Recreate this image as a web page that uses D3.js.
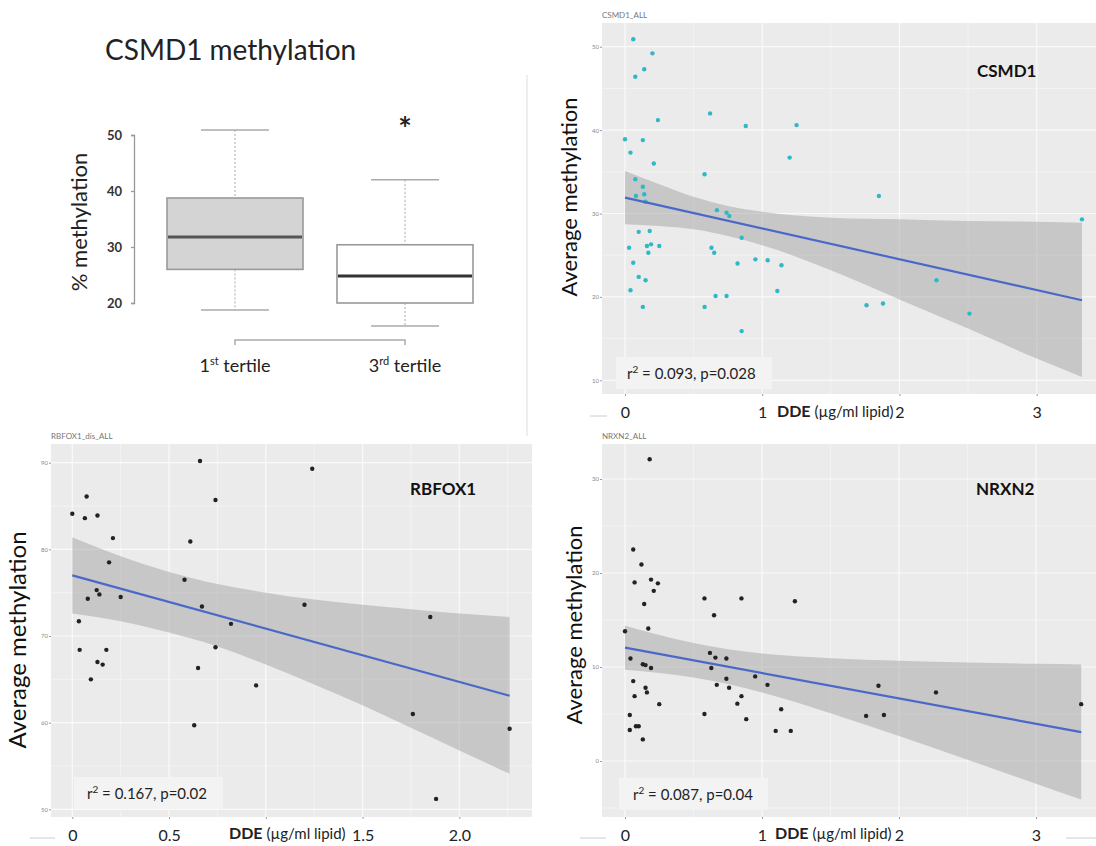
<!DOCTYPE html>
<html><head><meta charset="utf-8">
<script src="https://cdn.jsdelivr.net/npm/d3@7"></script>
<style>body{margin:0;background:#fff}svg{display:block}text{font-family:Lato,"Open Sans",sans-serif}</style>
</head><body>
<svg id="c" width="1096" height="846" viewBox="0 0 1096 846"></svg>
<script>
// ---------- Box plot (CSMD1 methylation by DDE tertile) ----------
const tertileNums = ["1", "3"];
const tertileSups = ["st", "rd"];
const boxMin = [18.75, 15.9];
const boxQ1  = [26.0, 20.0];
const boxMed = [31.8, 24.8];
const boxQ3  = [38.75, 30.4];
const boxMax = [50.9, 42.0];
const boxTicks = [20, 30, 40, 50];

// ---------- Scatter: CSMD1 ----------
const csmd1X = [0.06,0.20,0.14,0.075,0.24,0.62,0.88,1.25,0.0,0.13,0.04,0.21,1.20,0.58,0.075,0.13,0.14,0.08,0.15,1.85,0.67,0.74,0.76,3.33,0.10,0.18,0.85,0.03,0.16,0.19,0.25,0.17,0.63,0.65,0.06,0.82,0.95,1.04,1.14,0.10,0.15,2.27,0.04,0.66,0.74,1.11,0.13,0.58,1.76,1.88,2.51,0.85];
const csmd1Y = [50.9,49.2,47.3,46.4,41.2,42.0,40.5,40.6,38.9,38.8,37.3,36.0,36.7,34.7,34.1,33.2,32.3,32.1,31.4,32.1,30.4,30.1,29.7,29.3,27.8,27.9,27.1,25.9,26.1,26.3,26.1,25.3,25.9,25.3,24.1,24.0,24.5,24.4,23.8,22.4,22.0,22.0,20.8,20.1,20.1,20.7,18.8,18.8,19.0,19.2,18.0,15.9];
const csmd1FitX = [0, 3.33];
const csmd1FitY = [31.9, 19.6];
const csmd1BandX  = [0, 0.25, 0.5, 0.75, 1, 1.5, 2, 2.5, 3, 3.33];
const csmd1BandLo = [28.7, 28.5, 28.1, 27.3, 26.2, 23.2, 19.7, 16.2, 12.6, 10.4];
const csmd1BandHi = [35.1, 33.5, 32.0, 30.9, 30.2, 29.5, 29.3, 29.1, 29.0, 28.9];
const csmd1YTicks = [10, 20, 30, 40, 50];
const csmd1XTicks = [0, 1, 2, 3];
const csmd1XLabels = ["0", "1", "2", "3"];

// ---------- Scatter: RBFOX1 ----------
const rbfoxX = [0.66,1.24,0.074,0.74,0.0,0.065,0.13,0.21,0.61,0.19,0.58,0.126,0.14,0.08,0.25,0.67,1.20,1.85,0.034,0.82,0.74,0.038,0.176,0.13,0.157,0.65,0.096,0.95,1.76,0.63,2.26,1.88];
const rbfoxY = [90.2,89.3,86.1,85.7,84.1,83.6,83.9,81.3,80.9,78.5,76.5,75.3,74.8,74.3,74.5,73.4,73.6,72.2,71.7,71.4,68.7,68.4,68.4,67.0,66.7,66.3,65.0,64.3,61.0,59.7,59.3,51.2];
const rbfoxFitX = [0, 2.26];
const rbfoxFitY = [77.0, 63.1];
const rbfoxBandX  = [0, 0.25, 0.5, 0.75, 1.0, 1.25, 1.5, 1.75, 2.0, 2.26];
const rbfoxBandLo = [72.6, 71.7, 70.4, 68.8, 66.7, 64.4, 62.0, 59.4, 56.8, 54.1];
const rbfoxBandHi = [81.4, 79.2, 77.4, 76.0, 75.0, 74.2, 73.6, 73.1, 72.6, 72.2];
const rbfoxYTicks = [50, 60, 70, 80, 90];
const rbfoxXTicks = [0, 0.5, 1, 1.5, 2];
const rbfoxXLabels = ["0", "0.5", "", "1.5", "2.0"];

// ---------- Scatter: NRXN2 ----------
const nrxnX = [0.18,0.06,0.12,0.07,0.19,0.24,0.21,0.14,0.58,0.85,1.24,0.65,0.0,0.17,0.62,0.66,0.74,0.04,0.13,0.15,0.19,0.63,0.95,0.06,0.74,0.67,0.76,1.04,1.85,0.15,0.16,2.27,0.07,0.85,0.25,0.82,3.33,1.14,0.035,0.58,1.76,1.89,0.885,0.08,0.10,0.035,1.10,1.21,0.13];
const nrxnY = [32.1,22.5,20.9,19.0,19.3,18.9,18.1,16.7,17.3,17.3,17.0,15.5,13.8,14.1,11.5,11.0,10.9,10.9,10.3,10.2,9.9,9.9,9.0,8.5,8.75,8.1,7.8,8.1,8.0,7.8,7.3,7.3,6.9,6.9,6.05,6.1,6.05,5.5,4.9,5.0,4.8,4.9,4.45,3.7,3.7,3.3,3.2,3.2,2.3];
const nrxnFitX = [0, 3.33];
const nrxnFitY = [12.06, 3.07];
const nrxnBandX  = [0, 0.25, 0.5, 0.75, 1.0, 1.5, 2.0, 2.5, 3.0, 3.33];
const nrxnBandLo = [9.7, 9.37, 8.88, 8.19, 7.28, 5.09, 2.66, 0.14, -2.42, -4.1];
const nrxnBandHi = [14.4, 13.41, 12.54, 11.89, 11.44, 10.93, 10.66, 10.48, 10.34, 10.27];
const nrxnYTicks = [0, 10, 20, 30];
const nrxnXTicks = [0, 1, 2, 3];
const nrxnXLabels = ["0", "1", "2", "3"];

const svg = d3.select("#c");

// ================= BOX PLOT =================
(function () {
  const g = svg.append("g");
  const y = d3.scaleLinear().domain([20, 50]).range([303, 135]);
  const x = d3.scalePoint().domain(tertileNums).range([235, 405]);
  const bw = 136;

  g.append("text").attr("x", 105).attr("y", 60).attr("font-size", 28).attr("fill", "#222")
    .text("CSMD1 methylation");

  const ax = g.append("g").attr("transform", "translate(134,0)")
    .call(d3.axisLeft(y).tickValues(boxTicks).tickSize(3).tickSizeOuter(3).tickPadding(9));
  ax.selectAll("path,line").attr("stroke", "#999").attr("stroke-width", 1.3);
  ax.selectAll("text").attr("font-size", 13).attr("font-weight", "bold").attr("fill", "#333")
    .style("font-family", "Lato, sans-serif");

  g.append("text").attr("transform", "translate(87,222) rotate(-90)").attr("text-anchor", "middle")
    .attr("font-size", 22).attr("fill", "#222").text("% methylation");

  tertileNums.forEach((t, i) => {
    const cx = x(t);
    g.append("line").attr("x1", cx).attr("x2", cx).attr("y1", y(boxMax[i])).attr("y2", y(boxQ3[i]))
      .attr("stroke", "#aaa").attr("stroke-dasharray", "2,2");
    g.append("line").attr("x1", cx).attr("x2", cx).attr("y1", y(boxQ1[i])).attr("y2", y(boxMin[i]))
      .attr("stroke", "#aaa").attr("stroke-dasharray", "2,2");
    [boxMax[i], boxMin[i]].forEach(v => {
      g.append("line").attr("x1", cx - 34).attr("x2", cx + 34).attr("y1", y(v)).attr("y2", y(v))
        .attr("stroke", "#aaa").attr("stroke-width", 1.6);
    });
    g.append("rect").attr("x", cx - bw / 2).attr("y", y(boxQ3[i])).attr("width", bw)
      .attr("height", y(boxQ1[i]) - y(boxQ3[i]))
      .attr("fill", i === 0 ? "#d4d4d4" : "#fff").attr("stroke", "#999").attr("stroke-width", 1.6);
    g.append("line").attr("x1", cx - bw / 2 + 1).attr("x2", cx + bw / 2 - 1)
      .attr("y1", y(boxMed[i])).attr("y2", y(boxMed[i]))
      .attr("stroke", i === 0 ? "#555" : "#333").attr("stroke-width", 3);
    const lab = g.append("text").attr("x", cx).attr("y", 372).attr("text-anchor", "middle")
      .attr("font-size", 18).attr("fill", "#222");
    lab.append("tspan").text(t);
    lab.append("tspan").attr("font-size", 11).attr("dy", -7).text(tertileSups[i]);
    lab.append("tspan").attr("dy", 7).text(" tertile");
  });

  g.append("path").attr("d", `M${x("1")},345V340H${x("3")}V345`).attr("fill", "none")
    .attr("stroke", "#aaa").attr("stroke-width", 1.5);
  g.append("text").attr("x", x("3")).attr("y", 141).attr("text-anchor", "middle")
    .attr("font-size", 32).attr("font-weight", "bold").attr("fill", "#222").text("*");

  svg.append("line").attr("x1", 527).attr("x2", 527).attr("y1", 75).attr("y2", 436)
    .attr("stroke", "#ddd").attr("stroke-width", 1);
})();

// ================= SCATTER PANELS =================
function scatter(o) {
  const g = svg.append("g");
  const x = d3.scaleLinear().domain(o.xCal).range(o.xPix);
  const y = d3.scaleLinear().domain(o.yCal).range(o.yPix);
  const [L, T, R, B] = o.bg;

  g.append("text").attr("x", L).attr("y", T - 5).attr("font-size", 8).attr("fill", "#777").text(o.title);
  g.append("rect").attr("x", L).attr("y", T).attr("width", R - L).attr("height", B - T).attr("fill", "#ebebeb");

  function minors(t) {
    const step = t[1] - t[0], out = [];
    for (let i = -1; i < t.length; i++) out.push(t[0] + step * (i + 0.5));
    return out;
  }
  const inX = v => x(v) > L && x(v) < R, inY = v => y(v) > T && y(v) < B;
  minors(o.xTicks).filter(inX).forEach(v => g.append("line").attr("x1", x(v)).attr("x2", x(v)).attr("y1", T).attr("y2", B).attr("stroke", "#f6f6f6").attr("stroke-width", 0.7));
  minors(o.yTicks).filter(inY).forEach(v => g.append("line").attr("y1", y(v)).attr("y2", y(v)).attr("x1", L).attr("x2", R).attr("stroke", "#f6f6f6").attr("stroke-width", 0.7));
  o.xTicks.filter(inX).forEach(v => g.append("line").attr("x1", x(v)).attr("x2", x(v)).attr("y1", T).attr("y2", B).attr("stroke", "#fafafa").attr("stroke-width", 1.2));
  o.yTicks.filter(inY).forEach(v => g.append("line").attr("y1", y(v)).attr("y2", y(v)).attr("x1", L).attr("x2", R).attr("stroke", "#fafafa").attr("stroke-width", 1.2));

  const ya = g.append("g").attr("transform", `translate(${L},0)`)
    .call(d3.axisLeft(y).tickValues(o.yTicks).tickSize(2).tickPadding(1));
  ya.select(".domain").remove();
  ya.selectAll("line").attr("stroke", "#999");
  ya.selectAll("text").attr("font-size", 6).attr("fill", "#888");

  const xa = g.append("g").attr("transform", `translate(0,${B})`)
    .call(d3.axisBottom(x).tickValues(o.xTicks).tickSize(2).tickPadding(o.xPad)
      .tickFormat((d, i) => o.xLabels[i]));
  xa.select(".domain").remove();
  xa.selectAll("line").attr("stroke", "#999");
  xa.selectAll("text").attr("font-size", 16).attr("fill", "#222").style("font-family", "Lato, sans-serif");

  const dl = g.append("text").attr("x", o.ddeX).attr("y", o.labY).attr("font-size", 16).attr("fill", "#222");
  dl.append("tspan").attr("font-weight", "bold").text("DDE");
  dl.append("tspan").attr("font-size", 15).text(" (\u00b5g/ml  lipid)");

  const band = o.bandX.map((v, i) => [v, o.bandLo[i], o.bandHi[i]]);
  g.append("path").datum(band)
    .attr("d", d3.area().x(d => x(d[0])).y0(d => y(d[1])).y1(d => y(d[2])).curve(d3.curveMonotoneX))
    .attr("fill", "#a3a3a3").attr("fill-opacity", 0.5);
  g.selectAll(null).data(o.px).enter().append("circle")
    .attr("cx", d => x(d)).attr("cy", (d, i) => y(o.py[i])).attr("r", 2.2).attr("fill", o.color);
  g.append("path").datum(o.fitX.map((v, i) => [v, o.fitY[i]]))
    .attr("d", d3.line().x(d => x(d[0])).y(d => y(d[1])))
    .attr("stroke", "#4a68c8").attr("stroke-width", 2.2).attr("fill", "none");

  g.append("text").attr("x", o.gene[1]).attr("y", o.gene[2]).attr("font-size", 17).attr("font-weight", "bold")
    .attr("fill", "#111").text(o.gene[0]);

  const [rx0, ry0, rx1, ry1] = o.rbox;
  g.append("rect").attr("x", rx0).attr("y", ry0).attr("width", rx1 - rx0).attr("height", ry1 - ry0).attr("fill", "#f3f3f3");
  const rt = g.append("text").attr("x", rx0 + o.rPad).attr("y", ry1 - 10).attr("font-size", 15).attr("fill", "#222");
  rt.append("tspan").text("r");
  rt.append("tspan").attr("font-size", 10).attr("dy", -6).text("2");
  rt.append("tspan").attr("dy", 6).text(o.rText);

  g.append("text").attr("transform", `translate(${o.ylab[0]},${o.ylab[1]}) rotate(-90)`)
    .attr("text-anchor", "middle").attr("font-size", o.ylab[2]).attr("fill", "#111").text("Average methylation");

  (o.faint || []).forEach(f => g.append("line").attr("x1", f[0]).attr("x2", f[1]).attr("y1", f[2]).attr("y2", f[2]).attr("stroke", "#ccc"));
}

scatter({
  title: "CSMD1_ALL", bg: [602, 23, 1096, 394],
  xCal: [0, 3], xPix: [625, 1036.7], yCal: [10, 50], yPix: [380.3, 46.7],
  xTicks: csmd1XTicks, yTicks: csmd1YTicks, xLabels: csmd1XLabels, xPad: 11,
  ddeX: 777, labY: 417,
  px: csmd1X, py: csmd1Y, color: "#30b8c4",
  fitX: csmd1FitX, fitY: csmd1FitY, bandX: csmd1BandX, bandLo: csmd1BandLo, bandHi: csmd1BandHi,
  gene: ["CSMD1", 977, 77], rbox: [616, 357, 772, 389], rPad: 11, rText: " = 0.093, p=0.028",
  ylab: [577, 197, 22], faint: [[590, 607, 416]]
});
scatter({
  title: "RBFOX1_dis_ALL", bg: [51, 444, 532, 817],
  xCal: [0, 2], xPix: [72.3, 459.3], yCal: [50, 90], yPix: [809.3, 462.7],
  xTicks: rbfoxXTicks, yTicks: rbfoxYTicks, xLabels: rbfoxXLabels, xPad: 11,
  ddeX: 229, labY: 839,
  px: rbfoxX, py: rbfoxY, color: "#222",
  fitX: rbfoxFitX, fitY: rbfoxFitY, bandX: rbfoxBandX, bandLo: rbfoxBandLo, bandHi: rbfoxBandHi,
  gene: ["RBFOX1", 410, 495], rbox: [74, 777, 223, 809], rPad: 13, rText: " = 0.167, p=0.02",
  ylab: [26, 640, 24], faint: [[30, 55, 838]]
});
scatter({
  title: "NRXN2_ALL", bg: [602, 444, 1096, 817],
  xCal: [0, 3], xPix: [625, 1036], yCal: [0, 30], yPix: [761, 479],
  xTicks: nrxnXTicks, yTicks: nrxnYTicks, xLabels: nrxnXLabels, xPad: 11,
  ddeX: 775, labY: 839,
  px: nrxnX, py: nrxnY, color: "#222",
  fitX: nrxnFitX, fitY: nrxnFitY, bandX: nrxnBandX, bandLo: nrxnBandLo, bandHi: nrxnBandHi,
  gene: ["NRXN2", 976, 495], rbox: [619, 778, 768, 810], rPad: 14, rText: " = 0.087, p=0.04",
  ylab: [582, 625, 22], faint: [[580, 606, 838], [1066, 1096, 838]]
});
</script>
</body></html>
